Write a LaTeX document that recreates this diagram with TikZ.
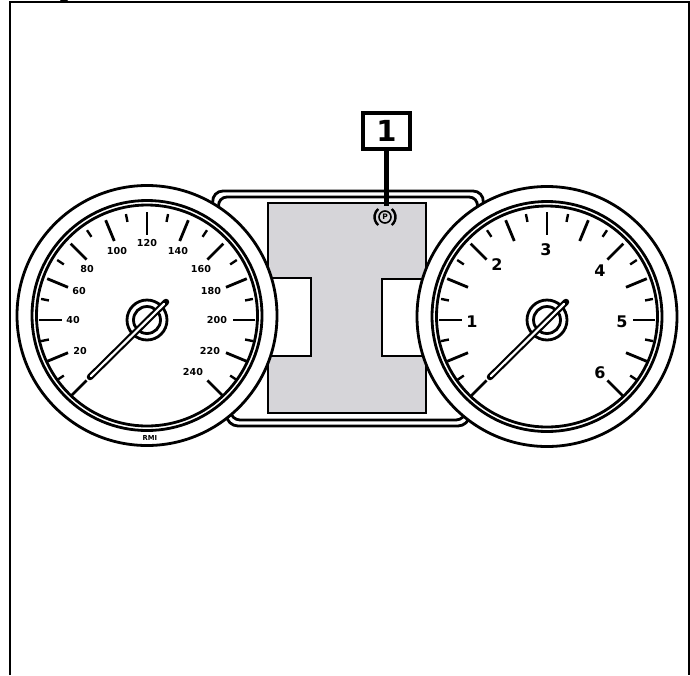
\documentclass[tikz,border=0pt]{standalone}
\usepackage{fontspec}
\setmainfont{DejaVu Sans}
\definecolor{panelgray}{RGB}{214,213,217}
\begin{document}
\begin{tikzpicture}[x=1pt,y=-1pt,
  ink/.style={draw=black,line width=2.8pt},
  frameline/.style={draw=black,line width=2pt},
  scalelabel/.style={inner sep=0pt,font=\fontsize{9.6}{10}\selectfont\bfseries},
  digitlabel/.style={inner sep=0pt,font=\fontsize{16}{17}\selectfont\bfseries},
  callout/.style={draw=black,line width=4.5pt,fill=white,minimum width=47pt,minimum height=36pt,inner sep=0pt,font=\fontsize{29}{30}\selectfont\bfseries},
  major/.style={draw=black,line width=2.8pt},
  minor/.style={draw=black,line width=2.4pt}]
\useasboundingbox (0,0) rectangle (690,675);
% frame
\draw[frameline] (10,675) -- (10,2) -- (689,2) -- (689,675);
\fill (60,0) -- (68,0) -- (66,2) -- (62,2) -- cycle;
% panel
\draw[ink,rounded corners=11pt] (212,191) -- (484,191) -- (469,426) -- (227,426) -- cycle;
\draw[ink,rounded corners=9pt] (218,197) -- (478,197) -- (465,420) -- (231,420) -- cycle;
% display
\draw[ink,fill=panelgray] (268,203) rectangle (426,413);
\draw[ink,fill=white] (250,278) rectangle (311,356);
\draw[ink,fill=white] (382,279) rectangle (445,356);
% parking brake symbol
\coordinate (psym) at (386,206);
\node[circle,draw=black,line width=1.6pt,minimum size=12pt,inner sep=0pt,font=\fontsize{7.5}{8}\selectfont\bfseries] (pmark) at (385,217) {P};
\draw[line width=2.4pt] (385,217) ++(130:10.5) arc (130:230:10.5);
\draw[line width=2.4pt] (385,217) ++(50:10.5) arc (50:-50:10.5);
% gauges
\foreach \cx/\cy in {147/315.5,547/316.5}{
  \draw[ink,fill=white] (\cx,\cy) circle (130);
  \draw[ink] (\cx,\cy) circle (115);
  \draw[ink] (\cx,\cy) circle (110.5);
}
\foreach \cx in {147,547}{
  \begin{scope}[shift={(\cx,320)}]
    \foreach \a in {-225,-202.5,...,45}{
      \draw[major] (\a:108) -- (\a:85.5);
    }
    \foreach \a in {-213.75,-191.25,...,45}{
      \draw[minor] (\a:108) -- (\a:100);
    }
    \draw[draw=black,line width=2.8pt,fill=white] (0,0) circle (20);
    \draw[draw=black,line width=2.8pt] (0,0) circle (13.5);
    \draw[line width=6.5pt,line cap=round] (-57,57) -- (19,-18);
    \draw[white,line width=2.2pt,line cap=round] (-56,56) -- (17,-16);
  \end{scope}
}
% left scale
\node[scalelabel] (s20) at (80,351) {20};
\node[scalelabel] (s40) at (73,320) {40};
\node[scalelabel] (s60) at (79,291) {60};
\node[scalelabel] (s80) at (87,269) {80};
\node[scalelabel] (s100) at (117,251) {100};
\node[scalelabel] (s120) at (147,243) {120};
\node[scalelabel] (s140) at (178,251) {140};
\node[scalelabel] (s160) at (201,269) {160};
\node[scalelabel] (s180) at (211,291) {180};
\node[scalelabel] (s200) at (217,320) {200};
\node[scalelabel] (s220) at (210,351) {220};
\node[scalelabel] (s240) at (193,372) {240};
\node[inner sep=0pt,font=\fontsize{6.8}{7}\selectfont\bfseries] (rmi) at (150,438) {RMI};
% right scale
\node[digitlabel] (d1) at (472,322) {1};
\node[digitlabel] (d2) at (497,265) {2};
\node[digitlabel] (d3) at (546,250) {3};
\node[digitlabel] (d4) at (600,271) {4};
\node[digitlabel] (d5) at (622,322) {5};
\node[digitlabel] (d6) at (600,373) {6};
% callout
\node[callout] (call) at (386.5,131) {1};
\draw[line width=5pt] (call.south -| psym) -- (psym);
\end{tikzpicture}
\end{document}
